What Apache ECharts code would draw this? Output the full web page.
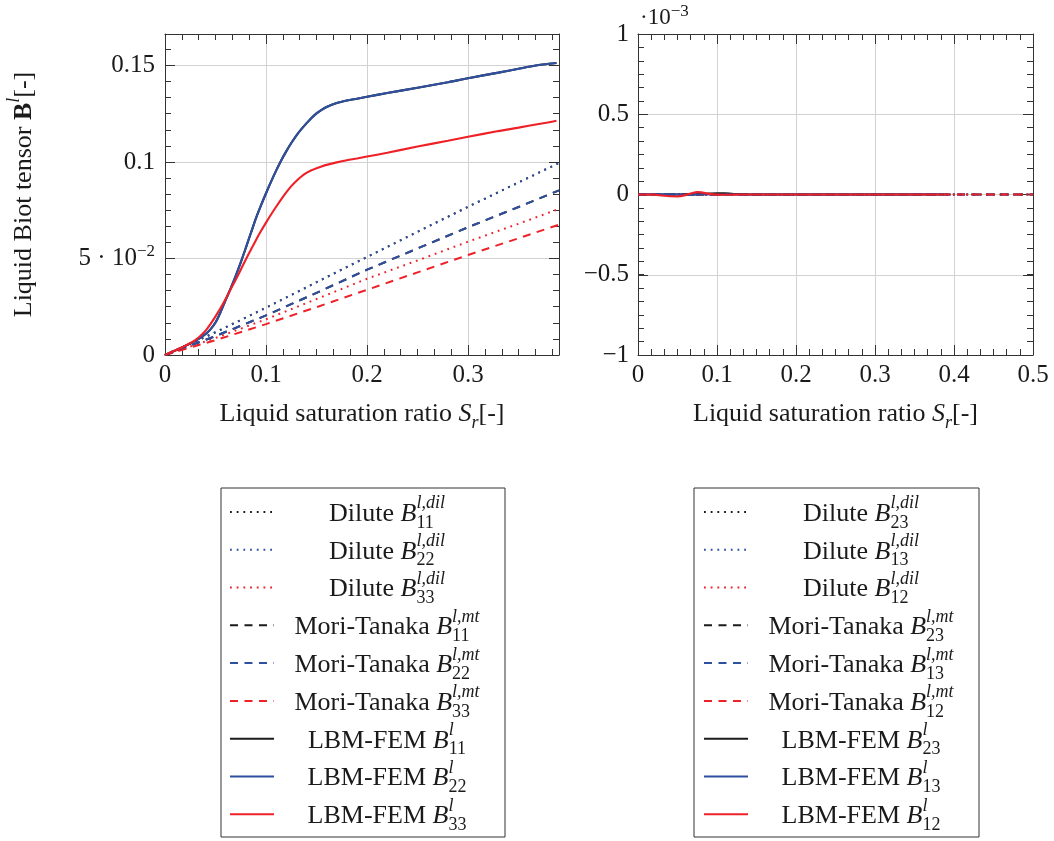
<!DOCTYPE html>
<html>
<head>
<meta charset="utf-8">
<script src="https://cdn.jsdelivr.net/npm/echarts@6/dist/echarts.min.js"></script>
<style>
html,body{margin:0;padding:0;background:#ffffff;}
#chart{width:1054px;height:841px;}
</style>
</head>
<body>
<div id="chart"></div>
<script>
// ================= DATA =================
// Left plot: diagonal components of the liquid Biot tensor
const lbmX   = [0,0.01,0.02,0.03,0.04,0.045,0.05,0.055,0.06,0.065,0.07,0.075,0.08,0.085,0.09,0.095,0.1,0.105,0.11,0.115,0.12,0.125,0.13,0.135,0.14,0.145,0.15,0.155,0.16,0.17,0.18,0.19,0.2,0.22,0.25,0.28,0.3,0.33,0.35,0.37,0.38,0.3875];
const lbmB22 = [0,0.0023,0.0047,0.0073,0.0108,0.0133,0.0168,0.0222,0.0285,0.0345,0.041,0.048,0.0555,0.0632,0.0708,0.0775,0.0838,0.0898,0.0955,0.1008,0.1055,0.1098,0.1137,0.117,0.12,0.1228,0.1252,0.127,0.1285,0.1305,0.1318,0.1328,0.1338,0.1357,0.1385,0.1413,0.1434,0.1463,0.1483,0.1502,0.1509,0.1513];
const lbmB11 = [0,0.0023,0.0047,0.0073,0.0108,0.0133,0.0168,0.0222,0.0285,0.0345,0.041,0.048,0.0555,0.0632,0.0708,0.0775,0.0838,0.0898,0.0955,0.1008,0.1055,0.1098,0.1137,0.117,0.12,0.1228,0.1252,0.127,0.1285,0.1305,0.1318,0.1328,0.1338,0.1357,0.1385,0.1413,0.1434,0.1463,0.1483,0.1502,0.1509,0.1513];
const lbmB33 = [0,0.0023,0.0048,0.0077,0.0125,0.016,0.02,0.0243,0.029,0.034,0.039,0.0442,0.0495,0.0545,0.0595,0.0642,0.0686,0.0728,0.0768,0.0806,0.0842,0.0875,0.0902,0.0925,0.0943,0.0957,0.0968,0.0977,0.0985,0.0998,0.1009,0.1018,0.1028,0.1048,0.108,0.111,0.1131,0.116,0.1178,0.1197,0.1206,0.1214];

const modelX = [0,0.05,0.1,0.15,0.2,0.25,0.3,0.35,0.39];
const dilB11 = [0,0.0118,0.0245,0.0377,0.0508,0.0638,0.0768,0.0894,0.0995];
const dilB22 = [0,0.0118,0.0245,0.0377,0.0508,0.0638,0.0768,0.0894,0.0995];
const dilB33 = [0,0.0088,0.0185,0.029,0.0395,0.049,0.0587,0.068,0.0757];
const mtB11  = [0,0.0098,0.0205,0.0322,0.0442,0.0552,0.0662,0.0767,0.0853];
const mtB22  = [0,0.0098,0.0205,0.0322,0.0442,0.0552,0.0662,0.0767,0.0853];
const mtB33  = [0,0.0077,0.016,0.0248,0.0338,0.0428,0.0518,0.0605,0.0675];

// Right plot: off-diagonal components
const lbmOffX = [0,0.01,0.02,0.03,0.04,0.05,0.06,0.07,0.075,0.08,0.09,0.1,0.11,0.12,0.13,0.14,0.16,0.2,0.25,0.3,0.35,0.3865];
const lbmB23  = [0,0,0,0,0,0,0,0.000001,0.000002,0.000003,0.000006,0.000008,0.000007,0.000004,0.000002,0.000001,0,0,0,0,0,0];
const lbmB13  = [0.000001,0.000002,0.000002,0.000002,0.000001,0,-0.000001,-0.000001,0,0.000001,0,-0.000002,-0.000001,0,0,0,0.000001,0.000001,0.000001,0.000001,0.000001,0.000002];
const lbmB12  = [0,0,-0.000001,-0.000006,-0.000011,-0.000012,-0.000004,0.000011,0.000015,0.000013,0.000004,-0.000001,-0.000002,-0.000001,0,0,0,0,0,0,0,0];
const modelOffX = [0,0.1,0.2,0.3,0.4,0.5];
const dilB23 = [0,0,0,0,0,0];
const dilB13 = [0,0,0,0,0,0];
const dilB12 = [0,0,0,0,0,0];
const mtB23  = [0,0,0,0,0,0];
const mtB13  = [0,0,0,0,0,0];
const mtB12  = [0,0,0,0,0,0];

// Tick labels
const leftXTicks  = [0,0.1,0.2,0.3];
const leftXLabels = ['0','0.1','0.2','0.3'];
const leftYTicks  = [0,0.05,0.1,0.15];
const leftYLabels = ['0','5 · 10{e|−2}','0.1','0.15'];
const rightXTicks  = [0,0.1,0.2,0.3,0.4,0.5];
const rightXLabels = ['0','0.1','0.2','0.3','0.4','0.5'];
const rightYTicks  = [-0.001,-0.0005,0,0.0005,0.001];
const rightYLabels = ['−1','−0.5','0','0.5','1'];

// Legend entries: [series name, lead text, subscript, superscript]
const leftLegendDefs = [
  ['Dilute B11 l,dil','Dilute ','11','l,dil'],
  ['Dilute B22 l,dil','Dilute ','22','l,dil'],
  ['Dilute B33 l,dil','Dilute ','33','l,dil'],
  ['Mori-Tanaka B11 l,mt','Mori-Tanaka ','11','l,mt'],
  ['Mori-Tanaka B22 l,mt','Mori-Tanaka ','22','l,mt'],
  ['Mori-Tanaka B33 l,mt','Mori-Tanaka ','33','l,mt'],
  ['LBM-FEM B11 l','LBM-FEM ','11','l'],
  ['LBM-FEM B22 l','LBM-FEM ','22','l'],
  ['LBM-FEM B33 l','LBM-FEM ','33','l']
];
const rightLegendDefs = [
  ['Dilute B23 l,dil','Dilute ','23','l,dil'],
  ['Dilute B13 l,dil','Dilute ','13','l,dil'],
  ['Dilute B12 l,dil','Dilute ','12','l,dil'],
  ['Mori-Tanaka B23 l,mt','Mori-Tanaka ','23','l,mt'],
  ['Mori-Tanaka B13 l,mt','Mori-Tanaka ','13','l,mt'],
  ['Mori-Tanaka B12 l,mt','Mori-Tanaka ','12','l,mt'],
  ['LBM-FEM B23 l','LBM-FEM ','23','l'],
  ['LBM-FEM B13 l','LBM-FEM ','13','l'],
  ['LBM-FEM B12 l','LBM-FEM ','12','l']
];

// ================= STYLE =================
const SERIF = '"Liberation Serif", "Times New Roman", serif';
const TXT = '#1a1a1a';
const AX = '#333333';
const GRIDC = '#d2d2d2';
const C_BLACK = '#1b1b1b', C_BLUE = '#2f4f9f', C_RED = '#ee2028';

function rs(size, extra) {
  return Object.assign({fontFamily: SERIF, fontSize: size, color: TXT}, extra || {});
}
function fmt(v, ticks, labels) {
  for (let i = 0; i < ticks.length; i++) {
    if (Math.abs(v - ticks[i]) < 1e-9) return labels[i];
  }
  return '';
}

function xAxesFor(g, min, max, major, ticks, labels, withName) {
  const minor = major / 6;
  const base = {type: 'value', gridIndex: g, min: min, max: max};
  return [
    Object.assign({}, base, {
      position: 'bottom', interval: major,
      axisLine: {show: true, onZero: false, lineStyle: {color: AX, width: 1}},
      axisTick: {show: true, inside: true, length: 10, lineStyle: {color: AX, width: 1}},
      minorTick: {show: false},
      splitLine: {show: true, lineStyle: {color: GRIDC, width: 1}},
      axisLabel: {show: true, margin: 8, color: TXT, fontFamily: SERIF, fontSize: 25,
                  formatter: v => fmt(v, ticks, labels), hideOverlap: false},
      name: withName ? 'Liquid saturation ratio {S|S}{r|r}[-]' : '',
      nameLocation: 'middle', nameGap: 46, nameMoveOverlap: false,
      nameTextStyle: Object.assign(rs(26), {rich: {
        S: rs(26, {fontStyle: 'italic'}),
        r: rs(18, {fontStyle: 'italic', padding: [18, 0, 0, 0], lineHeight: 10})
      }})
    }),
    Object.assign({}, base, {
      position: 'bottom', interval: minor,
      axisLine: {show: false, onZero: false},
      axisTick: {show: true, inside: true, length: 6, lineStyle: {color: AX, width: 1}},
      splitLine: {show: false}, axisLabel: {show: false}
    }),
    Object.assign({}, base, {
      position: 'top', interval: major,
      axisLine: {show: true, onZero: false, lineStyle: {color: AX, width: 1}},
      axisTick: {show: true, inside: true, length: 10, lineStyle: {color: AX, width: 1}},
      splitLine: {show: false}, axisLabel: {show: false}
    }),
    Object.assign({}, base, {
      position: 'top', interval: minor,
      axisLine: {show: false, onZero: false},
      axisTick: {show: true, inside: true, length: 6, lineStyle: {color: AX, width: 1}},
      splitLine: {show: false}, axisLabel: {show: false}
    })
  ];
}

function yAxesFor(g, min, max, major, ticks, labels, margin, nameCfg) {
  const minor = major / 6;
  const base = {type: 'value', gridIndex: g, min: min, max: max};
  const main = Object.assign({}, base, {
    position: 'left', interval: major,
    axisLine: {show: true, onZero: false, lineStyle: {color: AX, width: 1}},
    axisTick: {show: true, inside: true, length: 10, lineStyle: {color: AX, width: 1}},
    minorTick: {show: false},
    splitLine: {show: true, lineStyle: {color: GRIDC, width: 1}},
    axisLabel: {show: true, margin: margin, color: TXT, fontFamily: SERIF, fontSize: 25,
                formatter: v => fmt(v, ticks, labels), hideOverlap: false,
                rich: {e: rs(17, {padding: [0, 0, 13, 0], lineHeight: 10})}}
  });
  if (nameCfg) Object.assign(main, nameCfg);
  return [
    main,
    Object.assign({}, base, {
      position: 'left', interval: minor,
      axisLine: {show: false, onZero: false},
      axisTick: {show: true, inside: true, length: 6, lineStyle: {color: AX, width: 1}},
      splitLine: {show: false}, axisLabel: {show: false}
    }),
    Object.assign({}, base, {
      position: 'right', interval: major,
      axisLine: {show: true, onZero: false, lineStyle: {color: AX, width: 1}},
      axisTick: {show: true, inside: true, length: 10, lineStyle: {color: AX, width: 1}},
      splitLine: {show: false}, axisLabel: {show: false}
    }),
    Object.assign({}, base, {
      position: 'right', interval: minor,
      axisLine: {show: false, onZero: false},
      axisTick: {show: true, inside: true, length: 6, lineStyle: {color: AX, width: 1}},
      splitLine: {show: false}, axisLabel: {show: false}
    })
  ];
}

function mk(name, xs, ys, color, kind, g) {
  return {
    name: name, type: 'line', xAxisIndex: g * 4, yAxisIndex: g * 4,
    data: xs.map((x, i) => [x, ys[i]]),
    symbol: 'none', showSymbol: false,
    smooth: kind === 'solid' ? 0.3 : false,
    clip: true, animation: false,
    emphasis: {disabled: true},
    lineStyle: {color: color, width: kind === 'solid' ? 2.1 : 2,
      type: kind === 'dotted' ? [1.8, 4.9] : (kind === 'dashed' ? [8, 6.5] : 'solid')},
    itemStyle: {color: color}
  };
}

// ------- legend (rich text with stacked sub/superscripts) -------
const TEXT_W = 216;
const mctx = document.createElement('canvas').getContext('2d');
function tw(t, size, italic) {
  mctx.font = (italic ? 'italic ' : '') + size + 'px ' + SERIF;
  return mctx.measureText(t).width;
}
function buildLegend(defs, left, padLeft) {
  const rich = {
    t: rs(26, {lineHeight: 34, height: 30, verticalAlign: 'bottom'}),
    B: rs(26, {fontStyle: 'italic', lineHeight: 34, height: 30, verticalAlign: 'bottom'}),
    sup: rs(18, {fontStyle: 'italic', height: 17.6, lineHeight: 17.6, verticalAlign: 'top'}),
    sup0: rs(18, {fontStyle: 'italic', height: 17.6, lineHeight: 17.6, verticalAlign: 'top', width: 0}),
    sub: rs(18, {height: 12, lineHeight: 12, verticalAlign: 'bottom'}),
    sub0: rs(18, {height: 12, lineHeight: 12, verticalAlign: 'bottom', width: 0})
  };
  const map = {};
  defs.forEach((d, i) => {
    const supW = tw(d[3], 18, true), subW = tw(d[2], 18, false);
    const total = tw(d[1], 26, false) + tw('B', 26, true) + Math.max(supW, subW);
    const pad = Math.max(0, (TEXT_W - total) / 2);
    rich['p' + i] = rs(26, {width: pad, lineHeight: 34, height: 30});
    const scripts = supW >= subW ? '{sub0|' + d[2] + '}{sup|' + d[3] + '}'
                                 : '{sup0|' + d[3] + '}{sub|' + d[2] + '}';
    map[d[0]] = '{p' + i + '| }{t|' + d[1] + '}{B|B}' + scripts + '{p' + i + '| }';
  });
  return {
    orient: 'vertical', left: left, top: 488,
    padding: [6.7, 10, 2.7, padLeft],
    itemWidth: 44, itemHeight: 14, itemGap: 0.6,
    borderColor: '#333333', borderWidth: 1, backgroundColor: '#ffffff',
    selectedMode: false,
    itemStyle: {opacity: 0},
    data: defs.map(d => d[0]),
    formatter: n => map[n],
    textStyle: Object.assign(rs(26), {width: TEXT_W, rich: rich})
  };
}

// ================= SERIES =================
const leftSeries = [
  mk(leftLegendDefs[0][0], modelX, dilB11, C_BLACK, 'dotted', 0),
  mk(leftLegendDefs[1][0], modelX, dilB22, C_BLUE, 'dotted', 0),
  mk(leftLegendDefs[2][0], modelX, dilB33, C_RED, 'dotted', 0),
  mk(leftLegendDefs[3][0], modelX, mtB11, C_BLACK, 'dashed', 0),
  mk(leftLegendDefs[4][0], modelX, mtB22, C_BLUE, 'dashed', 0),
  mk(leftLegendDefs[5][0], modelX, mtB33, C_RED, 'dashed', 0),
  mk(leftLegendDefs[6][0], lbmX, lbmB11, C_BLACK, 'solid', 0),
  mk(leftLegendDefs[7][0], lbmX, lbmB22, C_BLUE, 'solid', 0),
  mk(leftLegendDefs[8][0], lbmX, lbmB33, C_RED, 'solid', 0)
];
const rightSeries = [
  mk(rightLegendDefs[0][0], modelOffX, dilB23, C_BLACK, 'dotted', 1),
  mk(rightLegendDefs[1][0], modelOffX, dilB13, C_BLUE, 'dotted', 1),
  mk(rightLegendDefs[2][0], modelOffX, dilB12, C_RED, 'dotted', 1),
  mk(rightLegendDefs[3][0], modelOffX, mtB23, C_BLACK, 'dashed', 1),
  mk(rightLegendDefs[4][0], modelOffX, mtB13, C_BLUE, 'dashed', 1),
  mk(rightLegendDefs[5][0], modelOffX, mtB12, C_RED, 'dashed', 1),
  mk(rightLegendDefs[6][0], lbmOffX, lbmB23, C_BLACK, 'solid', 1),
  mk(rightLegendDefs[7][0], lbmOffX, lbmB13, C_BLUE, 'solid', 1),
  mk(rightLegendDefs[8][0], lbmOffX, lbmB12, C_RED, 'solid', 1)
];

const leftYName = {
  name: 'Liquid Biot tensor {bb|B}{sl|l}[-]',
  nameLocation: 'middle', nameRotate: 90, nameGap: 128, nameMoveOverlap: false,
  nameTextStyle: Object.assign(rs(26), {rich: {
    bb: rs(26, {fontWeight: 'bold'}),
    sl: rs(18, {fontStyle: 'italic', padding: [0, 0, 20, 0], lineHeight: 10})
  }})
};

const option = {
  backgroundColor: '#ffffff',
  animation: false,
  grid: [
    {left: 165, top: 34, width: 394, height: 321, show: false, containLabel: false, outerBoundsMode: 'none'},
    {left: 638, top: 34, width: 395, height: 321, show: false, containLabel: false, outerBoundsMode: 'none'}
  ],
  xAxis: [].concat(
    xAxesFor(0, 0, 0.39, 0.1, leftXTicks, leftXLabels, true),
    xAxesFor(1, 0, 0.5, 0.1, rightXTicks, rightXLabels, true)
  ),
  yAxis: [].concat(
    yAxesFor(0, 0, 0.1663, 0.05, leftYTicks, leftYLabels, 10, leftYName),
    yAxesFor(1, -0.001, 0.001, 0.0005, rightYTicks, rightYLabels, 9, null)
  ),
  legend: [
    buildLegend(leftLegendDefs, 221, 8),
    buildLegend(rightLegendDefs, 694, 9)
  ],
  graphic: [{
    type: 'text', x: 640, y: 18,
    style: {
      text: '·10{s|−3}', fontFamily: SERIF, fontSize: 23, fill: TXT,
      verticalAlign: 'middle', align: 'left',
      rich: {s: {fontFamily: SERIF, fontSize: 17, fill: TXT, padding: [0, 0, 12, 0], lineHeight: 10}}
    }
  }],
  series: leftSeries.concat(rightSeries)
};

const chart = echarts.init(document.getElementById('chart'), null, {renderer: 'canvas'});
chart.setOption(option);
</script>
</body>
</html>
